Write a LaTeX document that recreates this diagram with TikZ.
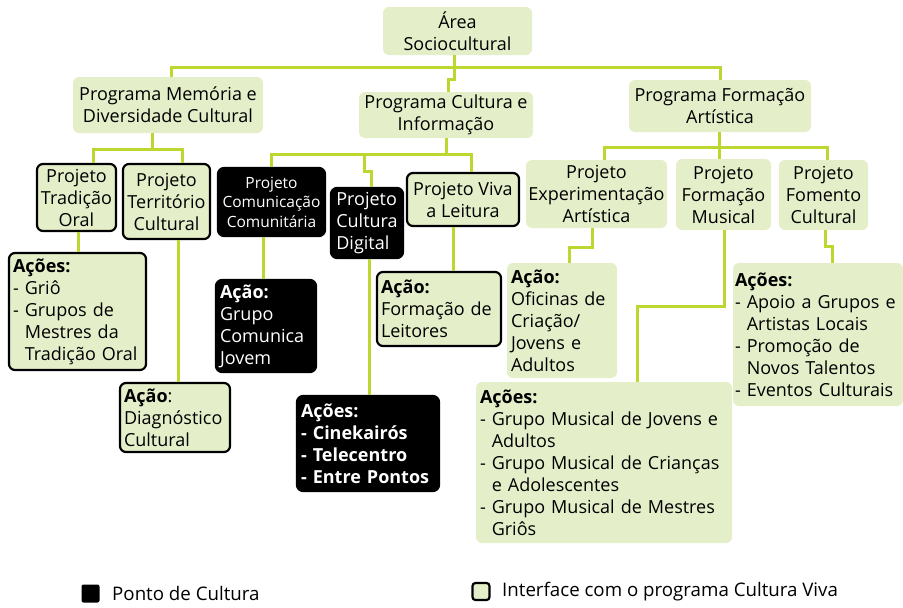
\documentclass[tikz,border=0pt]{standalone}
\usepackage{fontspec}
\setmainfont{Open Sans}
\definecolor{boxgreen}{HTML}{E4EFCA}
\definecolor{linkgreen}{HTML}{BED630}

\begin{document}
\begin{tikzpicture}[x=1pt,y=-1pt]
\tikzstyle{prog}=[fill=boxgreen, rounded corners=6pt, align=center, inner sep=0pt, font=\fontsize{18}{22}\selectfont]
\tikzstyle{proj}=[prog, draw=black, line width=2.2pt]
\tikzstyle{ponto}=[prog, draw=black, fill=black, text=white, line width=2.2pt]
\tikzstyle{acao}=[align=left, inner xsep=4pt]
\tikzstyle{link}=[draw=linkgreen, line width=3pt]
\useasboundingbox (0,0) rectangle (903,608);

% programas
\node[prog, minimum width=149pt, minimum height=48pt] (area) at (457.5,31) {Área\\Sociocultural};
\node[prog, minimum width=190pt, minimum height=56pt] (mem) at (168,105) {Programa Memória e\\Diversidade Cultural};
\node[prog, minimum width=174pt, minimum height=46pt] (info) at (446,115) {Programa Cultura e\\Informação};
\node[prog, minimum width=182pt, minimum height=52pt] (form) at (720,106) {Programa Formação\\Artística};

% projetos
\node[proj, minimum width=79pt, minimum height=67pt] (trad) at (76.5,197.5) {Projeto\\Tradição\\Oral};
\node[proj, minimum width=87pt, minimum height=75pt] (terr) at (166.5,201.5) {Projeto\\Território\\Cultural};
\node[ponto, minimum width=107pt, minimum height=68pt, font=\fontsize{15.5}{19.5}\selectfont] (comu) at (271.5,202) {Projeto\\Comunicação\\Comunitária};
\node[ponto, minimum width=72pt, minimum height=70pt, align=left] (digi) at (367,223) {Projeto\\Cultura\\Digital};
\node[proj, minimum width=112pt, minimum height=53pt] (viva) at (463,199.5) {Projeto Viva\\a Leitura};
\node[prog, minimum width=141pt, minimum height=68pt] (expe) at (596.5,194) {Projeto\\Experimentação\\Artística};
\node[prog, minimum width=95pt, minimum height=71pt] (musi) at (723.5,194.5) {Projeto\\Formação\\Musical};
\node[prog, minimum width=89pt, minimum height=70pt] (fome) at (823.5,195) {Projeto\\Fomento\\Cultural};

% acoes
\node[proj, acao, text width=129pt, minimum height=117pt] (acTrad) at (77.5,311.5) {\textbf{Ações:}\\- Griô\\- Grupos de\\\phantom{- }Mestres da\\\phantom{- }Tradição Oral};
\node[proj, acao, text width=102pt, minimum height=69pt] (acTerr) at (175,417.5) {\textbf{Ação}:\\Diagnóstico\\Cultural};
\node[ponto, acao, text width=92pt, minimum height=92pt] (acComu) at (266,326) {\textbf{Ação:}\\Grupo\\Comunica\\Jovem};
\node[ponto, acao, text width=134pt, minimum height=95pt, font=\fontsize{18}{22}\selectfont\bfseries] (acDigi) at (368,443.5) {Ações:\\- Cinekairós\\- Telecentro\\- Entre Pontos};
\node[proj, acao, text width=116pt, minimum height=74pt] (acViva) at (439,309) {\textbf{Ação:}\\Formação de\\Leitores};
\node[prog, acao, text width=102pt, minimum height=115pt] (acExpe) at (562,320.5) {\textbf{Ação:}\\Oficinas de\\Criação/\\Jovens e\\Adultos};
\node[prog, acao, text width=248pt, minimum height=161pt] (acMusi) at (604,462.5) {\textbf{Ações:}\\- Grupo Musical de Jovens e\\\phantom{- }Adultos\\- Grupo Musical de Crianças\\\phantom{- }e Adolescentes\\- Grupo Musical de Mestres\\\phantom{- }Griôs};
\node[prog, acao, inner xsep=2pt, text width=166pt, minimum height=143pt] (acFome) at (818,334.5) {\textbf{Ações:}\\- Apoio a Grupos e\\\phantom{- }Artistas Locais\\- Promoção de\\\phantom{- }Novos Talentos\\- Eventos Culturais};

% legenda
\node[fill=black, rounded corners=2pt, minimum size=18pt, inner sep=0pt] (keyPonto) at (90.5,593.5) {};
\node[anchor=west, inner sep=0pt, font=\fontsize{18.7}{22}\selectfont] (keyPontoTxt) at (112,593) {Ponto de Cultura};
\node[proj, rounded corners=3pt, minimum size=17pt] (keyViva) at (481,591.5) {};
\node[anchor=west, inner sep=0pt, font=\fontsize{18.7}{22}\selectfont] (keyVivaTxt) at (502,592) {Interface com o programa Cultura Viva};

% ligacoes
\coordinate (topBus) at (454,67);
\coordinate (areaBend) at (454,79);
\coordinate (infoBend) at (448,79);
\coordinate (memTop) at (171,0);
\draw[link] (areaBend |- area.south) -- (areaBend) -- (infoBend) -- (infoBend |- info.north);
\draw[link] (memTop |- mem.north) |- (topBus) -| (form.north);

\coordinate (memBus) at (152,149);
\coordinate (tradTop) at (93,0);
\coordinate (terrTop) at (182,0);
\draw[link] (memBus |- mem.south) -- (memBus);
\draw[link] (tradTop |- trad.north) |- (memBus) -| (terrTop |- terr.north);

\coordinate (infoBus) at (446,154);
\coordinate (vivaTop) at (471,0);
\coordinate (digiBend) at (364,171);
\coordinate (digiTop) at (371,0);
\draw[link] (info.south) -- (infoBus);
\draw[link] (comu.north) |- (infoBus) -| (vivaTop |- viva.north);
\draw[link] (digiBend |- infoBus) -- (digiBend) -| (digiTop |- digi.north);

\coordinate (formBus) at (719,147);
\coordinate (expeTop) at (604,0);
\coordinate (fomeTop) at (827,0);
\draw[link] (formBus |- form.south) -- (formBus) -- (formBus |- musi.north);
\draw[link] (expeTop |- expe.north) |- (formBus) -| (fomeTop |- fome.north);

\coordinate (tradDrop) at (78,0);
\coordinate (terrDrop) at (178,0);
\coordinate (comuDrop) at (263,0);
\coordinate (digiDrop) at (369,0);
\coordinate (vivaDrop) at (453,0);
\draw[link] (tradDrop |- trad.south) -- (tradDrop |- acTrad.north);
\draw[link] (terrDrop |- terr.south) -- (terrDrop |- acTerr.north);
\draw[link] (comuDrop |- comu.south) -- (comuDrop |- acComu.north);
\draw[link] (digiDrop |- digi.south) -- (digiDrop |- acDigi.north);
\draw[link] (vivaDrop |- viva.south) -- (vivaDrop |- acViva.north);

\coordinate (expeBend) at (592,247);
\coordinate (expeDrop) at (569,247);
\coordinate (musiBend) at (724,306);
\coordinate (musiDrop) at (637,306);
\coordinate (fomeBend) at (825,246);
\coordinate (fomeDrop) at (832,246);
\draw[link] (expeBend |- expe.south) -- (expeBend) -- (expeDrop) -- (expeDrop |- acExpe.north);
\draw[link] (musiBend |- musi.south) -- (musiBend) -- (musiDrop) -- (musiDrop |- acMusi.north);
\draw[link] (fomeBend |- fome.south) -- (fomeBend) -- (fomeDrop) -- (fomeDrop |- acFome.north);

\end{tikzpicture}
\end{document}
